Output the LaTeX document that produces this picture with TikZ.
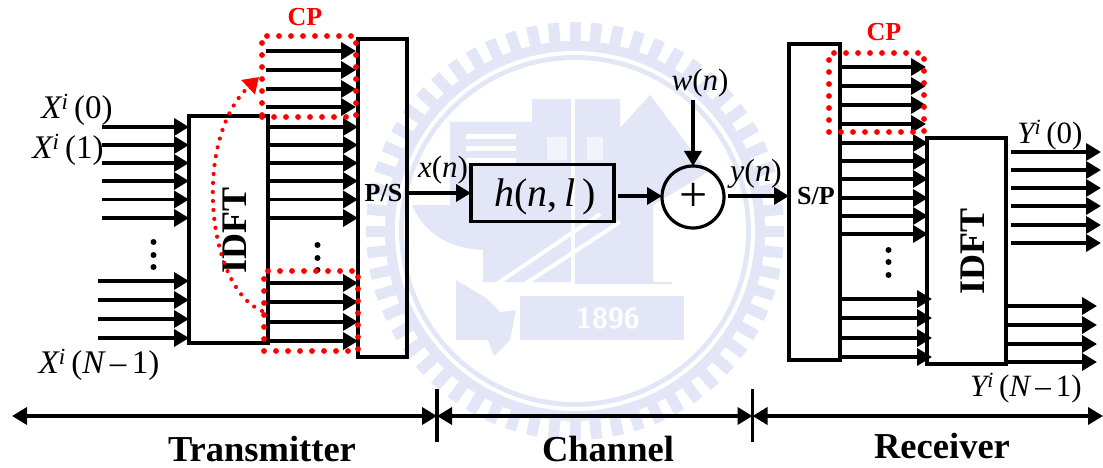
\documentclass[tikz,border=0pt]{standalone}
\usepackage{fontspec}
\setmainfont{Liberation Serif}
\usetikzlibrary{arrows.meta,calc}
\definecolor{wm}{HTML}{E2E6F6}
\newcommand{\fsz}[1]{\fontsize{#1}{#1}\selectfont}
\newcommand{\supI}[2]{{\itshape #1}\textsuperscript{\itshape i}\,#2}
\tikzset{
  sig/.style={line width=3.6pt,-{Triangle[length=15pt,width=17pt]}},
  blockbox/.style={draw=black,line width=3.6pt,inner sep=0pt,outer sep=0pt,rectangle},
  cpbox/.style={draw=red,line width=5.8pt,line cap=round,dash pattern=on 0pt off 12pt,inner sep=0pt,outer sep=0pt,rectangle},
  dimline/.style={line width=3.6pt,{Triangle[length=15pt,width=17pt]}-{Triangle[length=15pt,width=17pt]}},
  tick/.style={line width=3.2pt},
  vdot/.style={circle,fill=black,inner sep=0pt,minimum size=6pt},
  lab/.style={inner sep=0pt,font=\fsz{30}},
  boldlab/.style={inner sep=0pt,font=\fsz{36.5}\bfseries},
  cplab/.style={inner sep=0pt,text=red,font=\fsz{26}\bfseries}
}
\begin{document}
\begin{tikzpicture}[x=1pt,y=-1pt]
\useasboundingbox (0,0) rectangle (1103,468);
% faint seal behind the diagram
\begin{scope}
  \clip (0,0) rectangle (1103,468);
  \foreach \a in {0,6,...,354}
    \draw[wm,line width=11pt] ($(575,231)+(\a:186)$) -- ($(575,231)+(\a:209)$);
  \fill[wm] (575,231) circle (190);
  \draw[white,line width=4pt] (575,231) circle (178);
  \fill[white] (575,231) circle (171);
  % buildings
  \fill[wm] (450,122) -- (532,122) -- (532,99) -- (571,99) -- (571,282) -- (483,282) -- (483,250)
     .. controls (450,248) and (425,235) .. (412,205) -- (450,205) -- cycle;
  \fill[wm] (575,99) -- (620,99) -- (620,128) -- (650,95) -- (708,172) -- (653,205) -- (653,282) -- (672,282) -- (672,284) -- (575,284) -- cycle;
  \foreach \y in {134,146,158} \fill[white] (466,\y) rectangle (516,\y+5);
  \fill[white!55!wm] (547,137) rectangle (567,160);
  \fill[white!55!wm] (587,137) rectangle (603,160);
  % sword
  \draw[white,line width=4pt] (485,292) -- (600,214);
  \draw[white,line width=4pt] (505,297) -- (620,222);
  \fill[white] (483,283) -- (530,283) -- (525,288) -- (483,300) -- cycle;
  \fill[wm] (456,280) -- (486,298) -- (500,312) -- (516,310) -- (510,340) -- (494,356) -- (488,340) -- (456,340) -- cycle;
  \fill[wm] (520,296) rectangle (684,340);
  \node[inner sep=0pt,text=white,font=\fsz{29}\bfseries\sffamily] (year) at (608,318) {1896};
\end{scope}
% blocks
\node[blockbox,minimum width=79pt,minimum height=227pt] (tx) at (228.5,229.5) {};
\node[inner sep=0pt,rotate=90,font=\fsz{36}\bfseries] (txl) at (235,230) {IDFT};
\node[blockbox,minimum width=49pt,minimum height=318pt] (ps) at (382.5,198) {};
\node[inner sep=0pt,font=\fsz{26}\bfseries] (psl) at (383.5,193) {P/S};
\node[blockbox,minimum width=143pt,minimum height=57pt] (ch) at (542.5,193) {};
\node[inner sep=0pt,font=\fsz{40}] (chl) at (545,197) {\textit{h}(\textit{n},\,\textit{l}\,)};
\node[draw=black,line width=3.2pt,circle,minimum size=62pt,inner sep=0pt,outer sep=0pt] (sum) at (693,197) {};
\node[inner sep=0pt,font=\fsz{50}] (suml) at (693.5,197) {+};
\node[blockbox,minimum width=51pt,minimum height=316pt] (sp) at (814.5,202) {};
\node[inner sep=0pt,font=\fsz{26}\bfseries] (spl) at (816,196) {S/P};
\node[blockbox,minimum width=79pt,minimum height=226pt] (rx) at (966.5,251) {};
\node[inner sep=0pt,rotate=90,font=\fsz{36}\bfseries] (rxl) at (973,251) {IDFT};
% transmitter inputs
\foreach \y in {127,145,163,181,199.5,218} {
  \coordinate (p) at (102,\y); \draw[sig] (p) -- (tx.west |- p);}
\foreach \y in {281,300,319,338} {
  \coordinate (p) at (98,\y); \draw[sig] (p) -- (tx.west |- p);}
% transmitter outputs
\foreach \y in {127,145,163,181,199.5,218} {
  \coordinate (p) at (270,\y); \draw[sig] (p) -- (ps.west |- p);}
\foreach \y in {283,302,322,341} {
  \coordinate (p) at (270,\y); \draw[sig] (p) -- (ps.west |- p);}
\foreach \y in {51,70,89,107} {
  \coordinate (p) at (266,\y); \draw[sig] ([xshift=0pt]p) -- ([xshift=-2pt]ps.west |- p);}
% channel
\draw[sig] (ps.east |- ch.west) -- (ch.west);
\coordinate (chout) at (618,196);
\draw[sig] (chout) -- (sum.west |- chout);
\coordinate (wtop) at (693,100);
\draw[sig] (wtop) -- (sum.north);
\coordinate (yout) at (728,196);
\draw[sig] (yout) -- (sp.west |- yout);
% receiver
\foreach \y in {67,86,105,124} {
  \coordinate (p) at (838,\y); \draw[sig] (p) -- ([xshift=-1pt]rx.west |- p);}
\foreach \y in {143,161,179,198,216,234} {
  \coordinate (p) at (840,\y); \draw[sig] (p) -- ([xshift=1pt]rx.west |- p);}
\foreach \y in {299,318,338,357} {
  \coordinate (p) at (840,\y); \draw[sig] (p) -- ([xshift=5pt]rx.west |- p);}
\foreach \y in {152,170,188,206,225,243} {
  \coordinate (p) at (1011,\y); \coordinate (q) at (1101,\y); \draw[sig] (p) -- (q);}
\foreach \y in {306,325,344,362} {
  \coordinate (q) at (1097,\y); \draw[sig] (rx.east |- q) -- (q);}
% ellipses
\foreach \y/\n in {242/a,255/b,267/c} \node[vdot] (da\n) at (153.5,\y) {};
\foreach \y/\n in {245/a,258/b,270/c} \node[vdot] (db\n) at (317.5,\y) {};
\foreach \y/\n in {250/a,262/b,275/c} \node[vdot] (dc\n) at (888.5,\y) {};
% CP marks
\node[cpbox,minimum width=94pt,minimum height=81pt] (cpa) at (309,76.5) {};
\node[cpbox,minimum width=94pt,minimum height=80pt] (cpb) at (311,311) {};
\node[cpbox,minimum width=95pt,minimum height=79pt] (cpc) at (876.5,92.5) {};
\coordinate (cfrom) at (262,311);
\coordinate (cto) at (259,77);
\draw[red,line width=4.2pt,line cap=round,dash pattern=on 0pt off 9pt,-{Triangle[length=15pt,width=19pt]}]
  (cfrom) .. controls (207,288) and (192,140) .. (cto);
\node[cplab] (cpal) at (305,17) {CP};
\node[cplab] (cpcl) at (884,32) {CP};
% labels
\node[lab,font=\fsz{33}] (x0) at (77,110) {\supI{X}{(0)}};
\node[lab,font=\fsz{33}] (x1) at (68,150) {\supI{X}{(1)}};
\node[lab,font=\fsz{33}] (xn) at (99,365) {\supI{X}{(}{\itshape N}\,–\,1)};
\node[lab,font=\fsz{31}] (xt) at (443,170) {\textit{x}(\textit{n})};
\node[lab,font=\fsz{31}] (wt) at (700,83) {\textit{w}(\textit{n})};
\node[lab,font=\fsz{32}] (yt) at (756,174) {\textit{y}(\textit{n})};
\node[lab,font=\fsz{31}] (y0) at (1050,135) {\supI{Y}{(0)}};
\node[lab,font=\fsz{31}] (yn) at (1026,388) {\supI{Y}{(}{\itshape N}\,–\,1)};
% span markers
\coordinate (b0) at (12,416);
\coordinate (b1) at (437,416);
\coordinate (b2) at (752.5,416);
\coordinate (b3) at (1103,416);
\draw[dimline] (b0) -- (b1);
\draw[dimline] (b1) -- (b2);
\draw[dimline] (b2) -- (b3);
\draw[tick] (437,389) -- (437,442);
\draw[tick] (752.5,389) -- (752.5,442);
\node[boldlab] (tl) at (262,449) {Transmitter};
\node[boldlab] (cl) at (608,449) {Channel};
\node[boldlab] (rl) at (942,446) {Receiver};
\end{tikzpicture}
\end{document}
